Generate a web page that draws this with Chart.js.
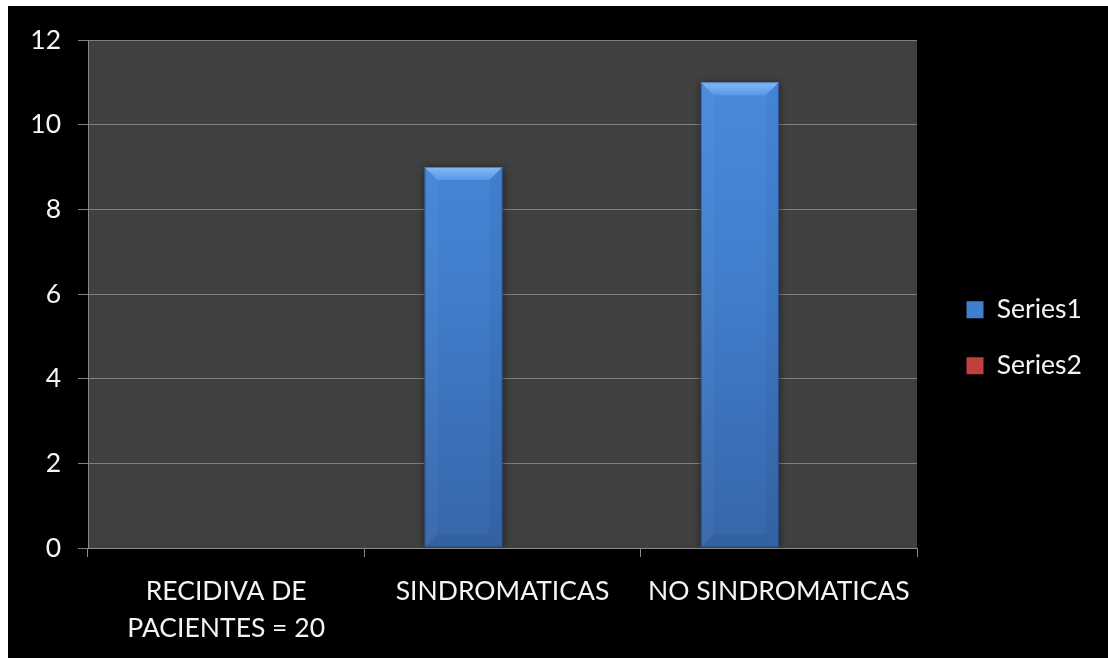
<!DOCTYPE html>
<html>
<head>
<meta charset="utf-8">
<script src="https://cdn.jsdelivr.net/npm/chart.js@4.4.1/dist/chart.umd.min.js"></script>
<style>
  html, body { margin: 0; padding: 0; background: #ffffff; }
  #wrap { position: absolute; left: 8px; top: 6px; width: 1100px; height: 652px; background: #000000; }
  canvas { display: block; }
</style>
</head>
<body>
<div id="wrap"><canvas id="chart" width="1100" height="652"></canvas></div>
<script>
// Categories and series
const categories = [['RECIDIVA DE', 'PACIENTES = 20'], 'SINDROMATICAS', 'NO SINDROMATICAS'];
const series1 = [null, 9, 11];
const series2 = [null, null, null];
const seriesNames = ['Series1', 'Series2'];
const yMin = 0, yMax = 12, yStep = 2;

const FONT = 'Lato';
const FONT_SIZE = 26.5;
const TEXT = '#f4f4f4';
Chart.defaults.font.family = FONT;

// Dark grey plotting area
const plotBackground = {
  id: 'plotBackground',
  beforeDraw(chart) {
    const { ctx, chartArea: a } = chart;
    ctx.save();
    ctx.fillStyle = '#404040';
    ctx.fillRect(a.left, a.top, a.right - a.left, a.bottom - a.top);
    ctx.restore();
  }
};

// Soft shadow under the bars plus bevelled edges on top of them
const barBevel = {
  id: 'barBevel',
  beforeDatasetsDraw(chart) {
    const ctx = chart.ctx;
    ctx.save();
    ctx.shadowColor = 'rgba(0,0,0,0.55)';
    ctx.shadowBlur = 8;
    ctx.shadowOffsetX = 0;
    ctx.shadowOffsetY = 1;
  },
  afterDatasetsDraw(chart) {
    const ctx = chart.ctx;
    ctx.restore();
    const meta = chart.getDatasetMeta(0);
    meta.data.forEach((el) => {
      const p = el.getProps(['x', 'y', 'base', 'width'], true);
      if (!isFinite(p.y) || p.base - p.y < 2) return;
      const l = p.x - p.width / 2, r = p.x + p.width / 2, t = p.y, b = p.base;
      const e = 13;
      ctx.save();
      // top bevel
      let g = ctx.createLinearGradient(0, t, 0, t + e);
      g.addColorStop(0, '#84bbf7');
      g.addColorStop(1, '#5797e5');
      ctx.fillStyle = g;
      ctx.beginPath();
      ctx.moveTo(l, t); ctx.lineTo(r, t); ctx.lineTo(r - e, t + e); ctx.lineTo(l + e, t + e);
      ctx.closePath(); ctx.fill();
      // left bevel
      ctx.fillStyle = 'rgba(255,255,255,0.03)';
      ctx.beginPath();
      ctx.moveTo(l, t); ctx.lineTo(l + e, t + e); ctx.lineTo(l + e, b - e); ctx.lineTo(l, b);
      ctx.closePath(); ctx.fill();
      // right bevel
      ctx.fillStyle = 'rgba(0,0,0,0.04)';
      ctx.beginPath();
      ctx.moveTo(r, t); ctx.lineTo(r - e, t + e); ctx.lineTo(r - e, b - e); ctx.lineTo(r, b);
      ctx.closePath(); ctx.fill();
      // bottom bevel
      ctx.fillStyle = 'rgba(0,0,0,0.06)';
      ctx.beginPath();
      ctx.moveTo(l, b); ctx.lineTo(r, b); ctx.lineTo(r - e, b - e); ctx.lineTo(l + e, b - e);
      ctx.closePath(); ctx.fill();
      // thin dark rim
      ctx.strokeStyle = 'rgba(20,45,90,0.4)';
      ctx.lineWidth = 1;
      ctx.strokeRect(l + 0.5, t + 0.5, p.width - 1, b - t - 1);
      ctx.restore();
    });
  }
};

// Legend sized and placed beside the plot
const LEGEND_W = 191;
const legendPlacement = {
  id: 'legendPlacement',
  afterInit(chart) {
    const lg = chart.legend;
    const fit = lg.fit;
    lg.fit = function () { fit.call(this); this.width = LEGEND_W; };
  },
  afterLayout(chart) {
    const lg = chart.legend;
    const dx = 20, newTop = 261;
    lg.left += dx; lg.right += dx;
    const h = lg.bottom - lg.top;
    lg.top = newTop; lg.bottom = newTop + h;
  }
};

function barFill(context) {
  const chart = context.chart;
  const a = chart.chartArea;
  if (!a) return '#4282d6';
  const g = chart.ctx.createLinearGradient(0, a.top, 0, a.bottom);
  g.addColorStop(0, '#4a8ce0');
  g.addColorStop(0.45, '#417fce');
  g.addColorStop(1, '#3766a9');
  return g;
}

new Chart(document.getElementById('chart'), {
  type: 'bar',
  data: {
    labels: categories,
    datasets: [
      { label: seriesNames[0], data: series1, backgroundColor: barFill, borderWidth: 0 },
      { label: seriesNames[1], data: series2, backgroundColor: '#c0403d', borderWidth: 0 }
    ]
  },
  options: {
    responsive: false,
    animation: false,
    devicePixelRatio: 1,
    layout: { padding: { top: 34, left: 0, right: 0, bottom: 0 } },
    datasets: { bar: { categoryPercentage: 0.5645, barPercentage: 1 } },
    plugins: {
      tooltip: { enabled: false },
      legend: {
        position: 'right',
        align: 'start',
        labels: {
          color: TEXT,
          font: { family: FONT, size: FONT_SIZE },
          boxWidth: 17,
          boxHeight: 17,
          padding: 29.5,
          generateLabels(chart) {
            const fills = ['#3f7fd0', '#c0403d'];
            return chart.data.datasets.map((ds, i) => ({
              text: ds.label, fillStyle: fills[i], strokeStyle: fills[i], lineWidth: 0,
              fontColor: TEXT, hidden: false, datasetIndex: i
            }));
          }
        }
      }
    },
    scales: {
      x: {
        grid: { display: true, drawOnChartArea: false, drawTicks: true, tickLength: 9, color: '#888888', offset: true },
        border: { display: true, color: '#888888', width: 1 },
        ticks: { color: TEXT, font: { family: FONT, size: FONT_SIZE, lineHeight: 1.4 }, padding: 15.5, maxRotation: 0, autoSkip: false },
        afterFit(scale) { scale.height = 110; }
      },
      y: {
        min: yMin, max: yMax,
        grid: { color: '#808080', lineWidth: 1, tickLength: 10, drawTicks: true },
        border: { display: true, color: '#888888', width: 1 },
        ticks: { stepSize: yStep, color: TEXT, font: { family: FONT, size: FONT_SIZE }, padding: 17 },
        afterFit(scale) { scale.width = 80; }
      }
    }
  },
  plugins: [plotBackground, barBevel, legendPlacement]
});
</script>
</body>
</html>
